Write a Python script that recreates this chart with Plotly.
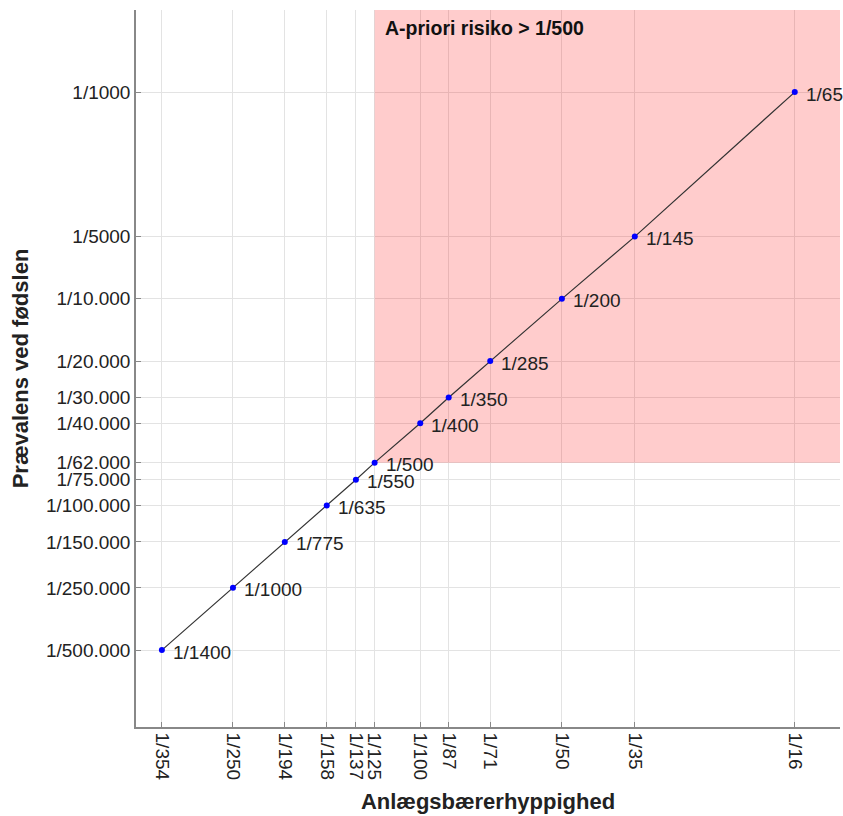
import numpy as np
import plotly.graph_objects as go

# Carrier frequency (1/n), prevalence at birth (1/m) and a-priori risk labels
carrier_den = [354, 250, 194, 158, 137, 125, 100, 87, 71, 50, 35, 16]
prevalence_den = [500000, 250000, 150000, 100000, 75000, 62000, 40000, 30000, 20000, 10000, 5000, 1000]
risk_labels = ["1/1400", "1/1000", "1/775", "1/635", "1/550", "1/500",
               "1/400", "1/350", "1/285", "1/200", "1/145", "1/65"]

x_ticktext = [f"1/{d}" for d in carrier_den]
y_ticktext = ["1/500.000", "1/250.000", "1/150.000", "1/100.000", "1/75.000", "1/62.000",
              "1/40.000", "1/30.000", "1/20.000", "1/10.000", "1/5000", "1/1000"]

# Threshold for the shaded high-risk area
threshold_carrier = 125
threshold_prev = 62000

x = [1 / d for d in carrier_den]
y = [1 / d for d in prevalence_den]

x_range = [-2.604, -1.108]
y_range = [-6.071, -2.603]
x_max = 10 ** x_range[1]
y_max = 10 ** y_range[1]

font_family = "Liberation Sans, Arial, sans-serif"

fig = go.Figure()

# Shaded region: a-priori risk above 1/500
x0 = 1 / threshold_carrier
y0 = 1 / threshold_prev
fig.add_trace(go.Scatter(
    x=[x0, x_max, x_max, x0, x0],
    y=[y0, y0, y_max, y_max, y0],
    fill="toself", fillcolor="rgba(255,0,0,0.2)",
    line=dict(width=0), mode="lines", hoverinfo="skip", showlegend=False,
))

fig.add_trace(go.Scatter(
    x=x, y=y, mode="lines+markers",
    line=dict(color="#333333", width=1.2),
    marker=dict(color="#0000ff", size=6),
    showlegend=False,
))

for xi, yi, lab in zip(x, y, risk_labels):
    fig.add_annotation(
        x=np.log10(xi), y=np.log10(yi), text=lab, showarrow=False,
        xanchor="left", yanchor="middle", xshift=9, yshift=-2,
        font=dict(family=font_family, size=19, color="#222222"),
    )

fig.add_annotation(
    x=np.log10(x0), y=y_range[1], text="<b>A-priori risiko > 1/500</b>",
    showarrow=False, xanchor="left", yanchor="top", xshift=8, yshift=-5,
    font=dict(family=font_family, size=19.5, color="#111111"),
)

axis_common = dict(
    type="log", showgrid=True, gridcolor="#e3e3e3", gridwidth=1,
    showline=True, linecolor="#888888", linewidth=1.5,
    ticks="inside", ticklen=5, tickcolor="#888888", tickwidth=1,
    tickfont=dict(family=font_family, size=19, color="#222222"),
    zeroline=False,
)

fig.update_xaxes(
    **axis_common, range=x_range, tickmode="array",
    tickvals=x, ticktext=x_ticktext, tickangle=90,
    title=dict(text="<b>Anlægsbærerhyppighed</b>",
               font=dict(family=font_family, size=22, color="#222222"), standoff=14),
)
fig.update_yaxes(
    **axis_common, range=y_range, tickmode="array",
    tickvals=y, ticktext=y_ticktext,
    title=dict(text="<b>Prævalens ved fødslen</b>",
               font=dict(family=font_family, size=22, color="#222222"), standoff=11),
)

fig.update_layout(
    width=843, height=816,
    margin=dict(l=136, r=3, t=10, b=89),
    paper_bgcolor="white", plot_bgcolor="white",
)

fig.write_html("out.html")
